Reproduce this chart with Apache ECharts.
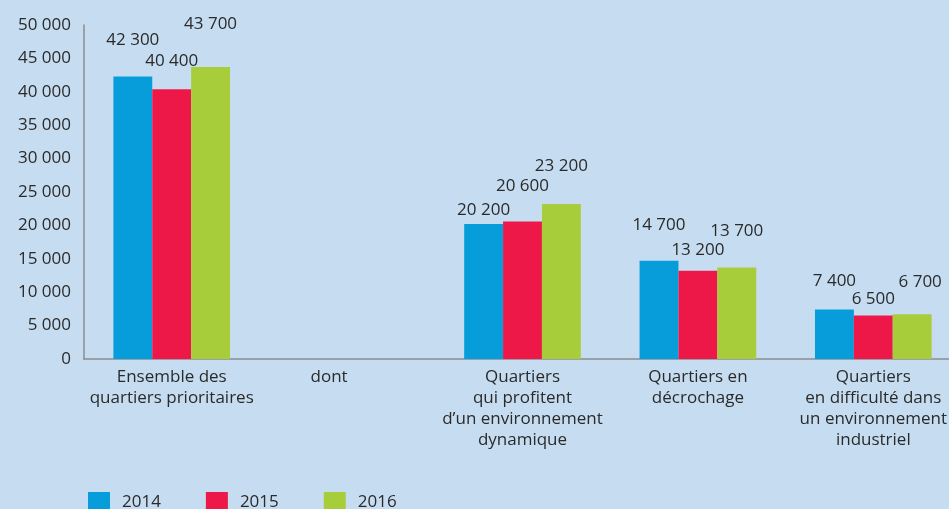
<!DOCTYPE html>
<html>
<head>
<meta charset="utf-8">
<script src="https://cdn.jsdelivr.net/npm/echarts@6/dist/echarts.min.js"></script>
<style>
  html, body { margin: 0; padding: 0; background: #c6ddf1; }
  #chart { width: 949px; height: 509px; }
</style>
</head>
<body>
<div id="chart"></div>
<script>
// Categories (the second one, "dont", is a spacer label with no bars)
const categories = [
  'Ensemble des\nquartiers prioritaires',
  'dont',
  'Quartiers\nqui profitent\nd\u2019un environnement\ndynamique',
  'Quartiers en\ndécrochage',
  'Quartiers\nen difficulté dans\nun environnement\nindustriel'
];
const years = ['2014', '2015', '2016'];
const values2014 = [42300, null, 20200, 14700, 7400];
const values2015 = [40400, null, 20600, 13200, 6500];
const values2016 = [43700, null, 23200, 13700, 6700];
const yTicks = { min: 0, max: 50000, interval: 5000 };

const colors = ['#079ddb', '#ee1848', '#a8cd3b'];
const textColor = '#2a2a2a';
const fontFamily = '"Open Sans", "Liberation Sans", sans-serif';

// Labels are staggered above the bars so neighbouring values don't collide
const labelLift = [
  [28, 0, 5, 27, 20],
  [19, 0, 27, 12, 8],
  [34, 0, 29, 28, 24]
];
const labelShiftX = [
  [0, 0, 0, 0, 0],
  [0, 0, 0, 0, 0],
  [0, 0, 0, 0, 8]
];

function fmt(v) {
  return String(v).replace(/\B(?=(\d{3})+(?!\d))/g, ' ');
}

const seriesValues = [values2014, values2015, values2016];

const series = seriesValues.map((vals, s) => ({
  name: years[s],
  type: 'bar',
  barGap: 0,
  barCategoryGap: '33.5%',
  itemStyle: { color: colors[s] },
  data: vals.map((v, i) => v === null ? null : {
    value: v,
    label: { distance: labelLift[s][i], offset: [labelShiftX[s][i], 0] }
  }),
  label: {
    show: true,
    position: 'top',
    color: textColor,
    fontFamily: fontFamily,
    fontSize: 17,
    formatter: p => fmt(p.value)
  }
}));

const chart = echarts.init(document.getElementById('chart'), null, { renderer: 'canvas' });
chart.setOption({
  backgroundColor: '#c6ddf1',
  animation: false,
  // the plot runs past the right edge of the canvas, so the last group is cut
  grid: {
    left: 84, width: 877, top: 25, height: 334,
    containLabel: false,
    outerBoundsMode: 'none'
  },
  legend: {
    left: 88,
    top: 492,
    padding: 0,
    itemWidth: 22,
    itemHeight: 20,
    itemGap: 45,
    icon: 'rect',
    textStyle: { color: textColor, fontFamily: fontFamily, fontSize: 17, padding: [0, 0, 0, 7] },
    data: years
  },
  xAxis: {
    type: 'category',
    data: categories.map((c, i) => i === 1
      ? { value: c, textStyle: { padding: [0, 36, 0, 0] } }
      : c),
    axisLine: { lineStyle: { color: '#8c8c8c', width: 1.5 } },
    axisTick: { show: false },
    axisLabel: {
      color: textColor,
      fontFamily: fontFamily,
      fontSize: 17,
      lineHeight: 21,
      margin: 8,
      interval: 0
    }
  },
  yAxis: {
    type: 'value',
    min: yTicks.min,
    max: yTicks.max,
    interval: yTicks.interval,
    splitLine: { show: false },
    axisLine: { show: true, lineStyle: { color: '#8c8c8c', width: 1.5 } },
    axisTick: { show: false },
    axisLabel: {
      color: textColor,
      fontFamily: fontFamily,
      fontSize: 17,
      margin: 13,
      formatter: v => fmt(v)
    }
  },
  series: series
});
</script>
</body>
</html>
